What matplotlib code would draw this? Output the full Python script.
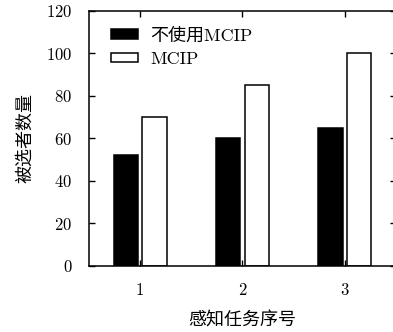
import numpy as np
import matplotlib
matplotlib.use('Agg')
import matplotlib.pyplot as plt

plt.rcParams['font.family'] = ['cmr10', 'Noto Sans CJK SC', 'DejaVu Sans']
plt.rcParams['axes.formatter.use_mathtext'] = True

# data
tasks = ['1', '2', '3']
without_mcip = [52, 60, 65]
with_mcip = [70, 85, 100]
series_names = ['不使用MCIP', 'MCIP']
y_ticks = [0, 20, 40, 60, 80, 100, 120]

fig = plt.figure(figsize=(3.93, 3.32), dpi=100)
ax = fig.add_axes([0.2265, 0.199, 0.781, 0.768])

x = np.arange(1, len(tasks) + 1)
width = 0.24
ax.bar(x - 0.14, without_mcip, width, color='black', edgecolor='black',
       linewidth=1.1, label=series_names[0])
ax.bar(x + 0.14, with_mcip, width, color='white', edgecolor='black',
       linewidth=1.1, label=series_names[1])

ax.set_xlim(0.5, 3.5)
ax.set_ylim(0, 120)
ax.set_xticks(x)
ax.set_xticklabels(tasks)
ax.set_yticks(y_ticks)
ax.tick_params(direction='in', top=True, right=True, length=4, width=1,
               labelsize=12, pad=12)
for s in ax.spines.values():
    s.set_linewidth(1.1)

ax.set_xlabel('感知任务序号', fontsize=13, labelpad=10)
ax.set_ylabel('被选者数量', fontsize=13, labelpad=9)

ax.legend(loc='upper left', frameon=False, fontsize=13, handlelength=1.45,
          handleheight=0.45, handletextpad=0.7, labelspacing=0.45,
          bbox_to_anchor=(0.02, 1.0))

fig.savefig('out.png', dpi=100)
